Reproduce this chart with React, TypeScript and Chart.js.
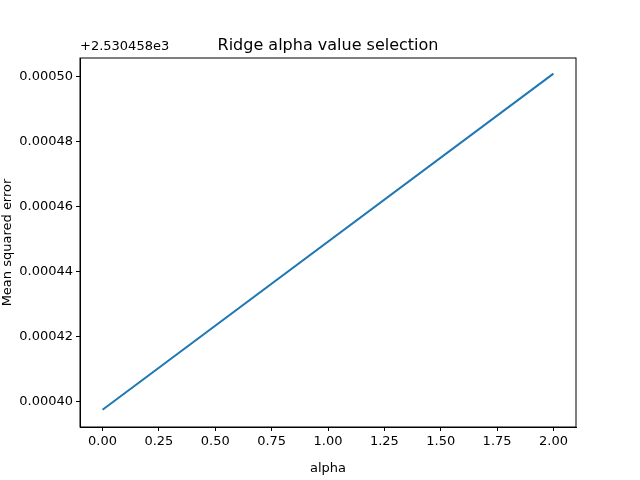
import { useEffect, useRef } from "react";
import { Chart, registerables } from "chart.js";

Chart.register(...registerables);

const alphas = [0, 2];
const mse = [0.0003976, 0.000501];
const xTicks = [0, 0.25, 0.5, 0.75, 1, 1.25, 1.5, 1.75, 2];
const yTicks = [0.0004, 0.00042, 0.00044, 0.00046, 0.00048, 0.0005];

const FONT = "DejaVu Sans";

const extras = {
  id: "extras",
  afterDraw(chart: Chart) {
    const { ctx, chartArea: a } = chart;
    ctx.save();
    ctx.strokeStyle = "#000";
    ctx.lineWidth = 1;
    ctx.strokeRect(a.left, a.top, a.right - a.left, a.bottom - a.top);
    ctx.fillStyle = "#000";
    ctx.font = `16px ${FONT}`;
    ctx.textAlign = "center";
    ctx.textBaseline = "alphabetic";
    ctx.fillText("Ridge alpha value selection", (a.left + a.right) / 2, 50);
    ctx.font = `13px ${FONT}`;
    ctx.textAlign = "left";
    ctx.fillText("+2.530458e3", a.left, 50);
    ctx.restore();
  },
};

export default function App() {
  const ref = useRef<HTMLCanvasElement>(null);

  useEffect(() => {
    if (!ref.current) return;
    const chart = new Chart(ref.current, {
      type: "scatter",
      data: {
        datasets: [
          {
            data: alphas.map((x, i) => ({ x, y: mse[i] })),
            showLine: true,
            borderColor: "#1f77b4",
            borderWidth: 2,
            pointRadius: 0,
          },
        ],
      },
      options: {
        animation: false,
        responsive: false,
        layout: { padding: { left: 0, top: 58, right: 64, bottom: 0 } },
        plugins: { legend: { display: false }, tooltip: { enabled: false } },
        scales: {
          x: {
            type: "linear",
            min: -0.1,
            max: 2.1,
            afterBuildTicks: (s: any) => { s.ticks = xTicks.map((v) => ({ value: v })); },
            afterFit: (s: any) => { s.height = 53; },
            grid: { drawOnChartArea: false, drawTicks: true, tickLength: 4, color: "#000" },
            border: { color: "#000" },
            ticks: { color: "#000", font: { family: FONT, size: 13 }, padding: 3, maxRotation: 0, callback: (v: any) => Number(v).toFixed(2) },
            title: { display: true, text: "alpha", color: "#000", font: { family: FONT, size: 13 }, padding: { top: 2 } },
          },
          y: {
            min: 0.0003923,
            max: 0.0005058,
            afterBuildTicks: (s: any) => { s.ticks = yTicks.map((v) => ({ value: v })); },
            afterFit: (s: any) => { s.width = 80; },
            grid: { drawOnChartArea: false, drawTicks: true, tickLength: 4, color: "#000" },
            border: { color: "#000" },
            ticks: { color: "#000", font: { family: FONT, size: 13 }, padding: 3, callback: (v: any) => Number(v).toFixed(5) },
            title: { display: true, text: "Mean squared error", color: "#000", font: { family: FONT, size: 13 }, padding: 0 },
          },
        },
      },
      plugins: [extras],
    });
    return () => chart.destroy();
  }, []);

  return (
    <div style={{ position: "fixed", left: 0, top: 0, width: 640, height: 480, background: "#fff" }}>
      <canvas ref={ref} width={640} height={480} />
    </div>
  );
}
